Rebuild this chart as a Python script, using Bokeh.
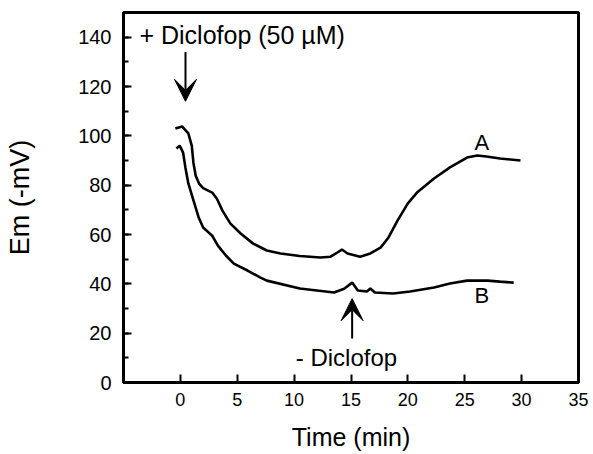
from bokeh.plotting import figure
from bokeh.models import (Range1d, FixedTicker, SingleIntervalTicker, Arrow, VeeHead, Label)
from bokeh.embed import file_html
from bokeh.resources import INLINE

# ---- data ----
time_a = [-0.44, 0.15, 0.7, 1.0, 1.15, 1.35, 1.65, 2.0, 2.8, 3.2, 3.7, 4.4, 5.3, 6.4, 7.6, 8.8,
          10.5, 12.3, 13.2, 13.8, 14.2, 14.7, 15.8, 16.7, 17.6, 18.3, 19.1, 20.0, 20.8,
          22.3, 23.7, 25.2, 26.1, 26.9, 28.1, 29.9]
em_a = [103.0, 103.8, 101.0, 96.0, 89.0, 83.8, 80.6, 78.8, 77.0, 74.6, 69.7, 64.4, 60.4, 56.3,
        53.5, 52.3, 51.3, 50.7, 51.0, 52.7, 53.9, 52.3, 51.0, 52.3, 54.7, 58.8, 65.7, 72.6,
        77.0, 82.7, 87.2, 91.2, 92.0, 91.6, 90.8, 90.0]

time_b = [-0.35, -0.06, 0.24, 0.44, 0.7, 1.15, 1.6, 2.0, 2.8, 3.3, 4.0, 4.7, 5.9, 7.0, 7.6,
          10.5, 13.5, 14.4, 15.1, 15.6, 16.4, 16.7, 17.1, 18.7, 20.2, 22.3, 23.7, 25.2,
          27.0, 28.1, 29.3]
em_b = [94.9, 96.0, 93.2, 87.2, 80.7, 73.8, 67.0, 62.8, 59.5, 55.5, 51.5, 48.2, 45.4, 42.6,
        41.3, 38.1, 36.5, 38.0, 40.5, 37.3, 36.9, 38.1, 36.5, 36.1, 36.9, 38.5, 40.1, 41.3,
        41.3, 40.9, 40.5]

x_ticks = [0, 5, 10, 15, 20, 25, 30, 35]

# ---- annotations ----
add_arrow = dict(x=0.45, y_start=134, y_end=114)
remove_arrow = dict(x=15.1, y_start=17.8, y_end=34)
add_text = dict(x=-3.6, y=141.0, text="+ Diclofop (50 µM)")
remove_text = dict(x=14.6, y=10.0, text="- Diclofop")
label_a = dict(x=26.5, y=97.2, text="A")
label_b = dict(x=26.5, y=35.2, text="B")

FONT = "Liberation Sans"

p = figure(width=593, height=454, output_backend="svg", toolbar_location=None,
           x_range=Range1d(-5, 35), y_range=Range1d(0, 150),
           min_border_left=123, min_border_right=15, min_border_top=12, min_border_bottom=72)
p.grid.visible = False
p.outline_line_color = "black"
p.outline_line_width = 3
p.background_fill_color = "white"
p.border_fill_color = "white"

p.line(time_a, em_a, line_color="black", line_width=2.6)
p.line(time_b, em_b, line_color="black", line_width=2.6)

# axes
xa = p.xaxis[0]
xa.ticker = FixedTicker(ticks=x_ticks)
xa.axis_label = "Time (min)"
ya = p.yaxis[0]
ya.ticker = SingleIntervalTicker(interval=20, num_minor_ticks=2)
ya.axis_label = "Em (-mV)"
for ax in (xa, ya):
    ax.axis_line_width = 3
    ax.axis_line_color = "black"
    ax.major_tick_in = 8
    ax.major_tick_out = 0
    ax.major_tick_line_width = 2
    ax.major_tick_line_color = "black"
    ax.major_label_text_font = FONT
    ax.major_label_text_color = "black"
    ax.axis_label_text_font = FONT
    ax.axis_label_text_font_style = "normal"
    ax.axis_label_text_color = "black"
xa.major_label_text_font_size = "18px"
ya.major_label_text_font_size = "20px"
xa.major_label_standoff = 10
ya.major_label_standoff = 12
xa.minor_tick_line_color = None
ya.minor_tick_in = 5
ya.minor_tick_out = 0
ya.minor_tick_line_width = 2
ya.minor_tick_line_color = "black"
xa.axis_label_text_font_size = "25px"
ya.axis_label_text_font_size = "27px"
xa.axis_label_standoff = 14
ya.axis_label_standoff = 40

for a in (add_arrow, remove_arrow):
    p.add_layout(Arrow(end=VeeHead(size=22, fill_color="black", line_color="black"),
                       x_start=a["x"], y_start=a["y_start"], x_end=a["x"], y_end=a["y_end"],
                       line_width=2, line_color="black"))

p.add_layout(Label(x=add_text["x"], y=add_text["y"], text=add_text["text"], text_font=FONT,
                   text_font_size="25px", text_color="black", text_baseline="alphabetic"))
p.add_layout(Label(x=remove_text["x"], y=remove_text["y"], text=remove_text["text"], text_font=FONT,
                   text_font_size="24px", text_color="black", text_align="center",
                   text_baseline="alphabetic"))
for lab, fs in ((label_a, "22px"), (label_b, "22px")):
    p.add_layout(Label(x=lab["x"], y=lab["y"], text=lab["text"], text_font=FONT,
                       text_font_size=fs, text_color="black", text_align="center",
                       text_baseline="alphabetic"))

open("out.html", "w").write(file_html(p, INLINE))
